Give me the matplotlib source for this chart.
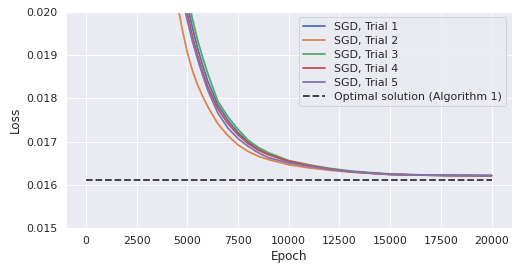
import matplotlib
matplotlib.use("Agg")
import matplotlib.pyplot as plt
import seaborn as sns

sns.set_theme(style="darkgrid", context="notebook")
plt.rcParams["font.family"] = ["DejaVu Sans"]

epochs = [4000, 4250, 4500, 4750, 5000, 5250, 5500, 5750, 6000, 6500, 7000,
          7500, 8000, 8500, 9000, 10000, 11000, 12000, 13000, 14000, 15000,
          16000, 17000, 18000, 19000, 20000]

trial1 = [0.022778, 0.022014, 0.021319, 0.020694, 0.020153, 0.019634, 0.019164,
          0.018771, 0.018403, 0.017847, 0.017488, 0.017204, 0.016988, 0.016822,
          0.016713, 0.016537, 0.016444, 0.016363, 0.016306, 0.016271, 0.016240,
          0.016228, 0.016220, 0.016214, 0.016211, 0.016208]
trial2 = [0.021780, 0.020930, 0.020200, 0.019583, 0.019053, 0.018639, 0.018315,
          0.018049, 0.017810, 0.017412, 0.017137, 0.016921, 0.016769, 0.016660,
          0.016583, 0.016463, 0.016391, 0.016336, 0.016294, 0.016264, 0.016238,
          0.016229, 0.016222, 0.016216, 0.016213, 0.016211]
trial3 = [0.023030, 0.022290, 0.021570, 0.020950, 0.020370, 0.019838, 0.019350,
          0.018951, 0.018579, 0.017933, 0.017569, 0.017280, 0.017028, 0.016865,
          0.016740, 0.016560, 0.016460, 0.016380, 0.016320, 0.016280, 0.016250,
          0.016235, 0.016225, 0.016218, 0.016214, 0.016211]
trial4 = [0.022523, 0.021759, 0.021088, 0.020486, 0.019949, 0.019438, 0.018998,
          0.018618, 0.018275, 0.017762, 0.017414, 0.017153, 0.016951, 0.016801,
          0.016694, 0.016542, 0.016449, 0.016366, 0.016306, 0.016271, 0.016242,
          0.016229, 0.016221, 0.016215, 0.016211, 0.016208]
trial5 = [0.022338, 0.021597, 0.020926, 0.020324, 0.019794, 0.019317, 0.018910,
          0.018539, 0.018194, 0.017662, 0.017310, 0.017067, 0.016887, 0.016741,
          0.016627, 0.016505, 0.016426, 0.016356, 0.016303, 0.016269, 0.016240,
          0.016229, 0.016222, 0.016217, 0.016213, 0.016211]

trials = [trial1, trial2, trial3, trial4, trial5]
labels = ["SGD, Trial 1", "SGD, Trial 2", "SGD, Trial 3", "SGD, Trial 4", "SGD, Trial 5"]
colors = ["#4c72b0", "#dd8452", "#55a868", "#c44e52", "#8172b3"]

optimal_loss = 0.01611
optimal_span = [0, 20000]

fig, ax = plt.subplots(figsize=(8, 4.201), dpi=64.75)
fig.subplots_adjust(left=0.127, right=0.988, bottom=0.162, top=0.956)

for vals, lab, c in zip(trials, labels, colors):
    ax.plot(epochs, vals, label=lab, color=c, linewidth=2.0)

ax.plot(optimal_span, [optimal_loss, optimal_loss], "--", color="#333333",
        linewidth=2.0, label="Optimal solution (Algorithm 1)")

ax.set_xlim(-1000, 21000)
ax.set_ylim(0.015, 0.020)
ax.set_xticks([0, 2500, 5000, 7500, 10000, 12500, 15000, 17500, 20000])
ax.tick_params(labelsize=12.2)
ax.set_xlabel("Epoch", fontsize=13.3)
ax.set_ylabel("Loss", fontsize=13.3)
ax.legend(loc="upper right", fontsize=12.2, labelspacing=0.36)

fig.savefig("out.png", dpi=64.75)
